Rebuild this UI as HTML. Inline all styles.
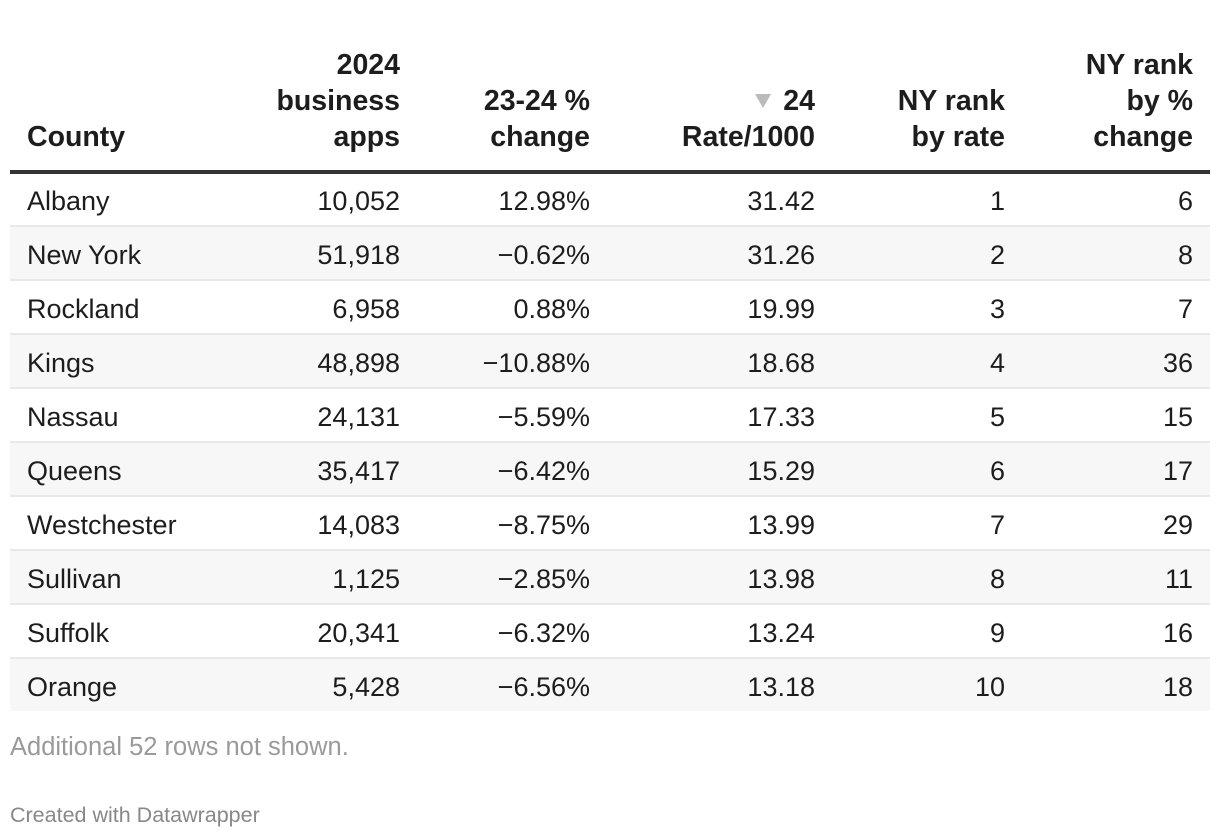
<!DOCTYPE html>
<html><head><meta charset="utf-8">
<style>
html,body{margin:0;padding:0;background:#fff;}
body{width:1220px;height:838px;position:relative;overflow:hidden;font-family:"Liberation Sans",Arial,sans-serif;color:#1d1d1d;}
.h{position:absolute;top:0;height:155px;display:flex;flex-direction:column;justify-content:flex-end;font-weight:bold;font-size:28.5px;line-height:36px;color:#1d1d1d;white-space:nowrap;}
.h.r{text-align:right;}
.rule{position:absolute;left:10px;top:170px;width:1200px;height:3.5px;background:#333;}
.row{position:absolute;left:10px;width:1200px;height:52px;border-bottom:2px solid #e8e8e8;}
.row.s{background:#f7f7f7;}
.row.last{border-bottom:none;}
.c{position:absolute;top:0;padding-top:2px;line-height:52px;font-size:27px;white-space:nowrap;}
.c1{left:17px;}
.c2{right:810px;text-align:right;}
.c3{right:620px;text-align:right;}
.c4{right:395px;text-align:right;}
.c5{right:205px;text-align:right;}
.c6{right:17px;text-align:right;}
.tri{display:inline-block;width:0;height:0;border-left:8px solid transparent;border-right:8px solid transparent;border-top:14px solid #bbb;margin-right:12px;vertical-align:2px;}
.note{position:absolute;left:10px;top:733px;font-size:25.5px;color:#9a9a9a;white-space:nowrap;}
.credit{position:absolute;left:10px;top:803px;font-size:21.5px;color:#888;white-space:nowrap;}
</style></head><body>
<div class="h" style="left:27px;">County</div>
<div class="h r" style="right:820px;">2024<br>business<br>apps</div>
<div class="h r" style="right:630px;">23-24 %<br>change</div>
<div class="h r" style="right:405px;"><span><span class="tri"></span>24</span>Rate/1000</div>
<div class="h r" style="right:215px;">NY rank<br>by rate</div>
<div class="h r" style="right:27px;">NY rank<br>by %<br>change</div>
<div class="rule"></div>

<div class="row" style="top:173px;"><div class="c c1">Albany</div><div class="c c2">10,052</div><div class="c c3">12.98%</div><div class="c c4">31.42</div><div class="c c5">1</div><div class="c c6">6</div></div>
<div class="row s" style="top:227px;"><div class="c c1">New York</div><div class="c c2">51,918</div><div class="c c3">−0.62%</div><div class="c c4">31.26</div><div class="c c5">2</div><div class="c c6">8</div></div>
<div class="row" style="top:281px;"><div class="c c1">Rockland</div><div class="c c2">6,958</div><div class="c c3">0.88%</div><div class="c c4">19.99</div><div class="c c5">3</div><div class="c c6">7</div></div>
<div class="row s" style="top:335px;"><div class="c c1">Kings</div><div class="c c2">48,898</div><div class="c c3">−10.88%</div><div class="c c4">18.68</div><div class="c c5">4</div><div class="c c6">36</div></div>
<div class="row" style="top:389px;"><div class="c c1">Nassau</div><div class="c c2">24,131</div><div class="c c3">−5.59%</div><div class="c c4">17.33</div><div class="c c5">5</div><div class="c c6">15</div></div>
<div class="row s" style="top:443px;"><div class="c c1">Queens</div><div class="c c2">35,417</div><div class="c c3">−6.42%</div><div class="c c4">15.29</div><div class="c c5">6</div><div class="c c6">17</div></div>
<div class="row" style="top:497px;"><div class="c c1">Westchester</div><div class="c c2">14,083</div><div class="c c3">−8.75%</div><div class="c c4">13.99</div><div class="c c5">7</div><div class="c c6">29</div></div>
<div class="row s" style="top:551px;"><div class="c c1">Sullivan</div><div class="c c2">1,125</div><div class="c c3">−2.85%</div><div class="c c4">13.98</div><div class="c c5">8</div><div class="c c6">11</div></div>
<div class="row" style="top:605px;"><div class="c c1">Suffolk</div><div class="c c2">20,341</div><div class="c c3">−6.32%</div><div class="c c4">13.24</div><div class="c c5">9</div><div class="c c6">16</div></div>
<div class="row s last" style="top:659px;"><div class="c c1">Orange</div><div class="c c2">5,428</div><div class="c c3">−6.56%</div><div class="c c4">13.18</div><div class="c c5">10</div><div class="c c6">18</div></div>

<div class="note">Additional 52 rows not shown.</div>
<div class="credit">Created with Datawrapper</div>
</body></html>
